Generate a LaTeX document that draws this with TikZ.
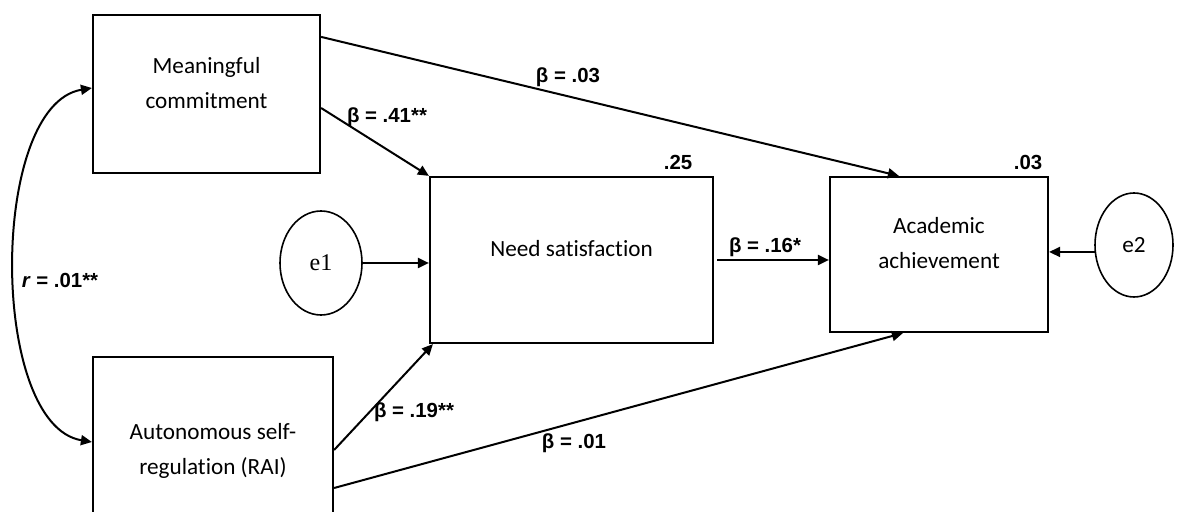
\documentclass[tikz,border=0pt]{standalone}
\usepackage{fontspec}
\setmainfont{Liberation Sans}
\newfontfamily\boxfont{Carlito}[Ligatures=NoCommon]
\newfontfamily\errfont{Liberation Serif}
\usetikzlibrary{arrows.meta,shapes.geometric}
\newcommand{\liftup}[1]{\raisebox{5pt}[\height][\depth]{\begin{tabular}{@{}c@{}}#1\end{tabular}}}

\begin{document}
\begin{tikzpicture}[
  x=0.5pt, y=-0.5pt,
  >={Triangle[length=5.5pt,width=5pt]},
  var/.style={draw, rectangle, line width=1.1pt, inner sep=0pt,
    font=\boxfont\fontsize{11.6}{17.5}\selectfont},
  err/.style={draw, ellipse, line width=0.8pt, inner sep=0pt},
  arr/.style={->, line width=1pt},
  coef/.style={inner sep=0pt, font=\bfseries\fontsize{10.2}{12}\selectfont},
]
  \useasboundingbox (0,0) rectangle (1177,512);
  \clip (0,0) rectangle (1177,512);

  % Variables
  \node[var, minimum width=113.5pt, minimum height=79pt] (mc) at (206.5,94)
    {\liftup{Meaningful\\commitment}};
  \node[var, minimum width=120pt, minimum height=103pt] (asr) at (213,460)
    {\liftup{Autonomous self-\\regulation (RAI)}};
  \node[var, minimum width=141.5pt, minimum height=83pt] (need) at (571.5,260)
    {\liftup{Need satisfaction}};
  \node[var, minimum width=109pt, minimum height=77.5pt] (ach) at (939,254.5)
    {\liftup{Academic\\achievement}};

  % Error terms
  \node[err, minimum width=41pt, minimum height=52pt,
    font=\errfont\fontsize{12}{14}\selectfont] (e1) at (321,263) {e1};
  \node[err, minimum width=39pt, minimum height=52pt,
    font=\boxfont\fontsize{11.6}{14}\selectfont] (e2) at (1134,245) {e2};

  % Paths
  \draw[arr] ([yshift=-7pt]mc.east) -- (need.north west);
  \draw[arr] ([yshift=-11.5pt]mc.north east) -- ([xshift=35pt]ach.north west);
  \draw[arr] ([yshift=5pt]asr.east) -- ([xshift=2pt]need.south west);
  \draw[arr] ([yshift=-14pt]asr.east) -- ([xshift=37pt]ach.south west);
  \draw[arr] (e1.east) -- (e1.east -| need.west);
  \draw[arr] ([xshift=1.5pt]need.east) -- (need.east -| ach.west);
  \draw[arr] (e2.190) -- (e2.190 -| ach.east);

  % Correlation
  \draw[<->, line width=1pt] ([yshift=3pt]mc.west)
    .. controls +(-103,17) and +(-103,-17) .. ([yshift=9pt]asr.west);

  % Coefficients
  \foreach \x/\y/\nm/\txt in {568/77/b03/{β = .03}, 387/117/b41/{β = .41**},
      765/247/b16/{β = .16*}, 414/412/b19/{β = .19**}, 574/443/b01/{β = .01},
      678/162/r25/{.25}, 1028/162/r03/{.03}} {
    \node[coef] (\nm) at (\x,\y) {\txt};
  }
  \node[coef] (rcor) at (60,280) {\textit{r} = .01**};
\end{tikzpicture}
\end{document}
